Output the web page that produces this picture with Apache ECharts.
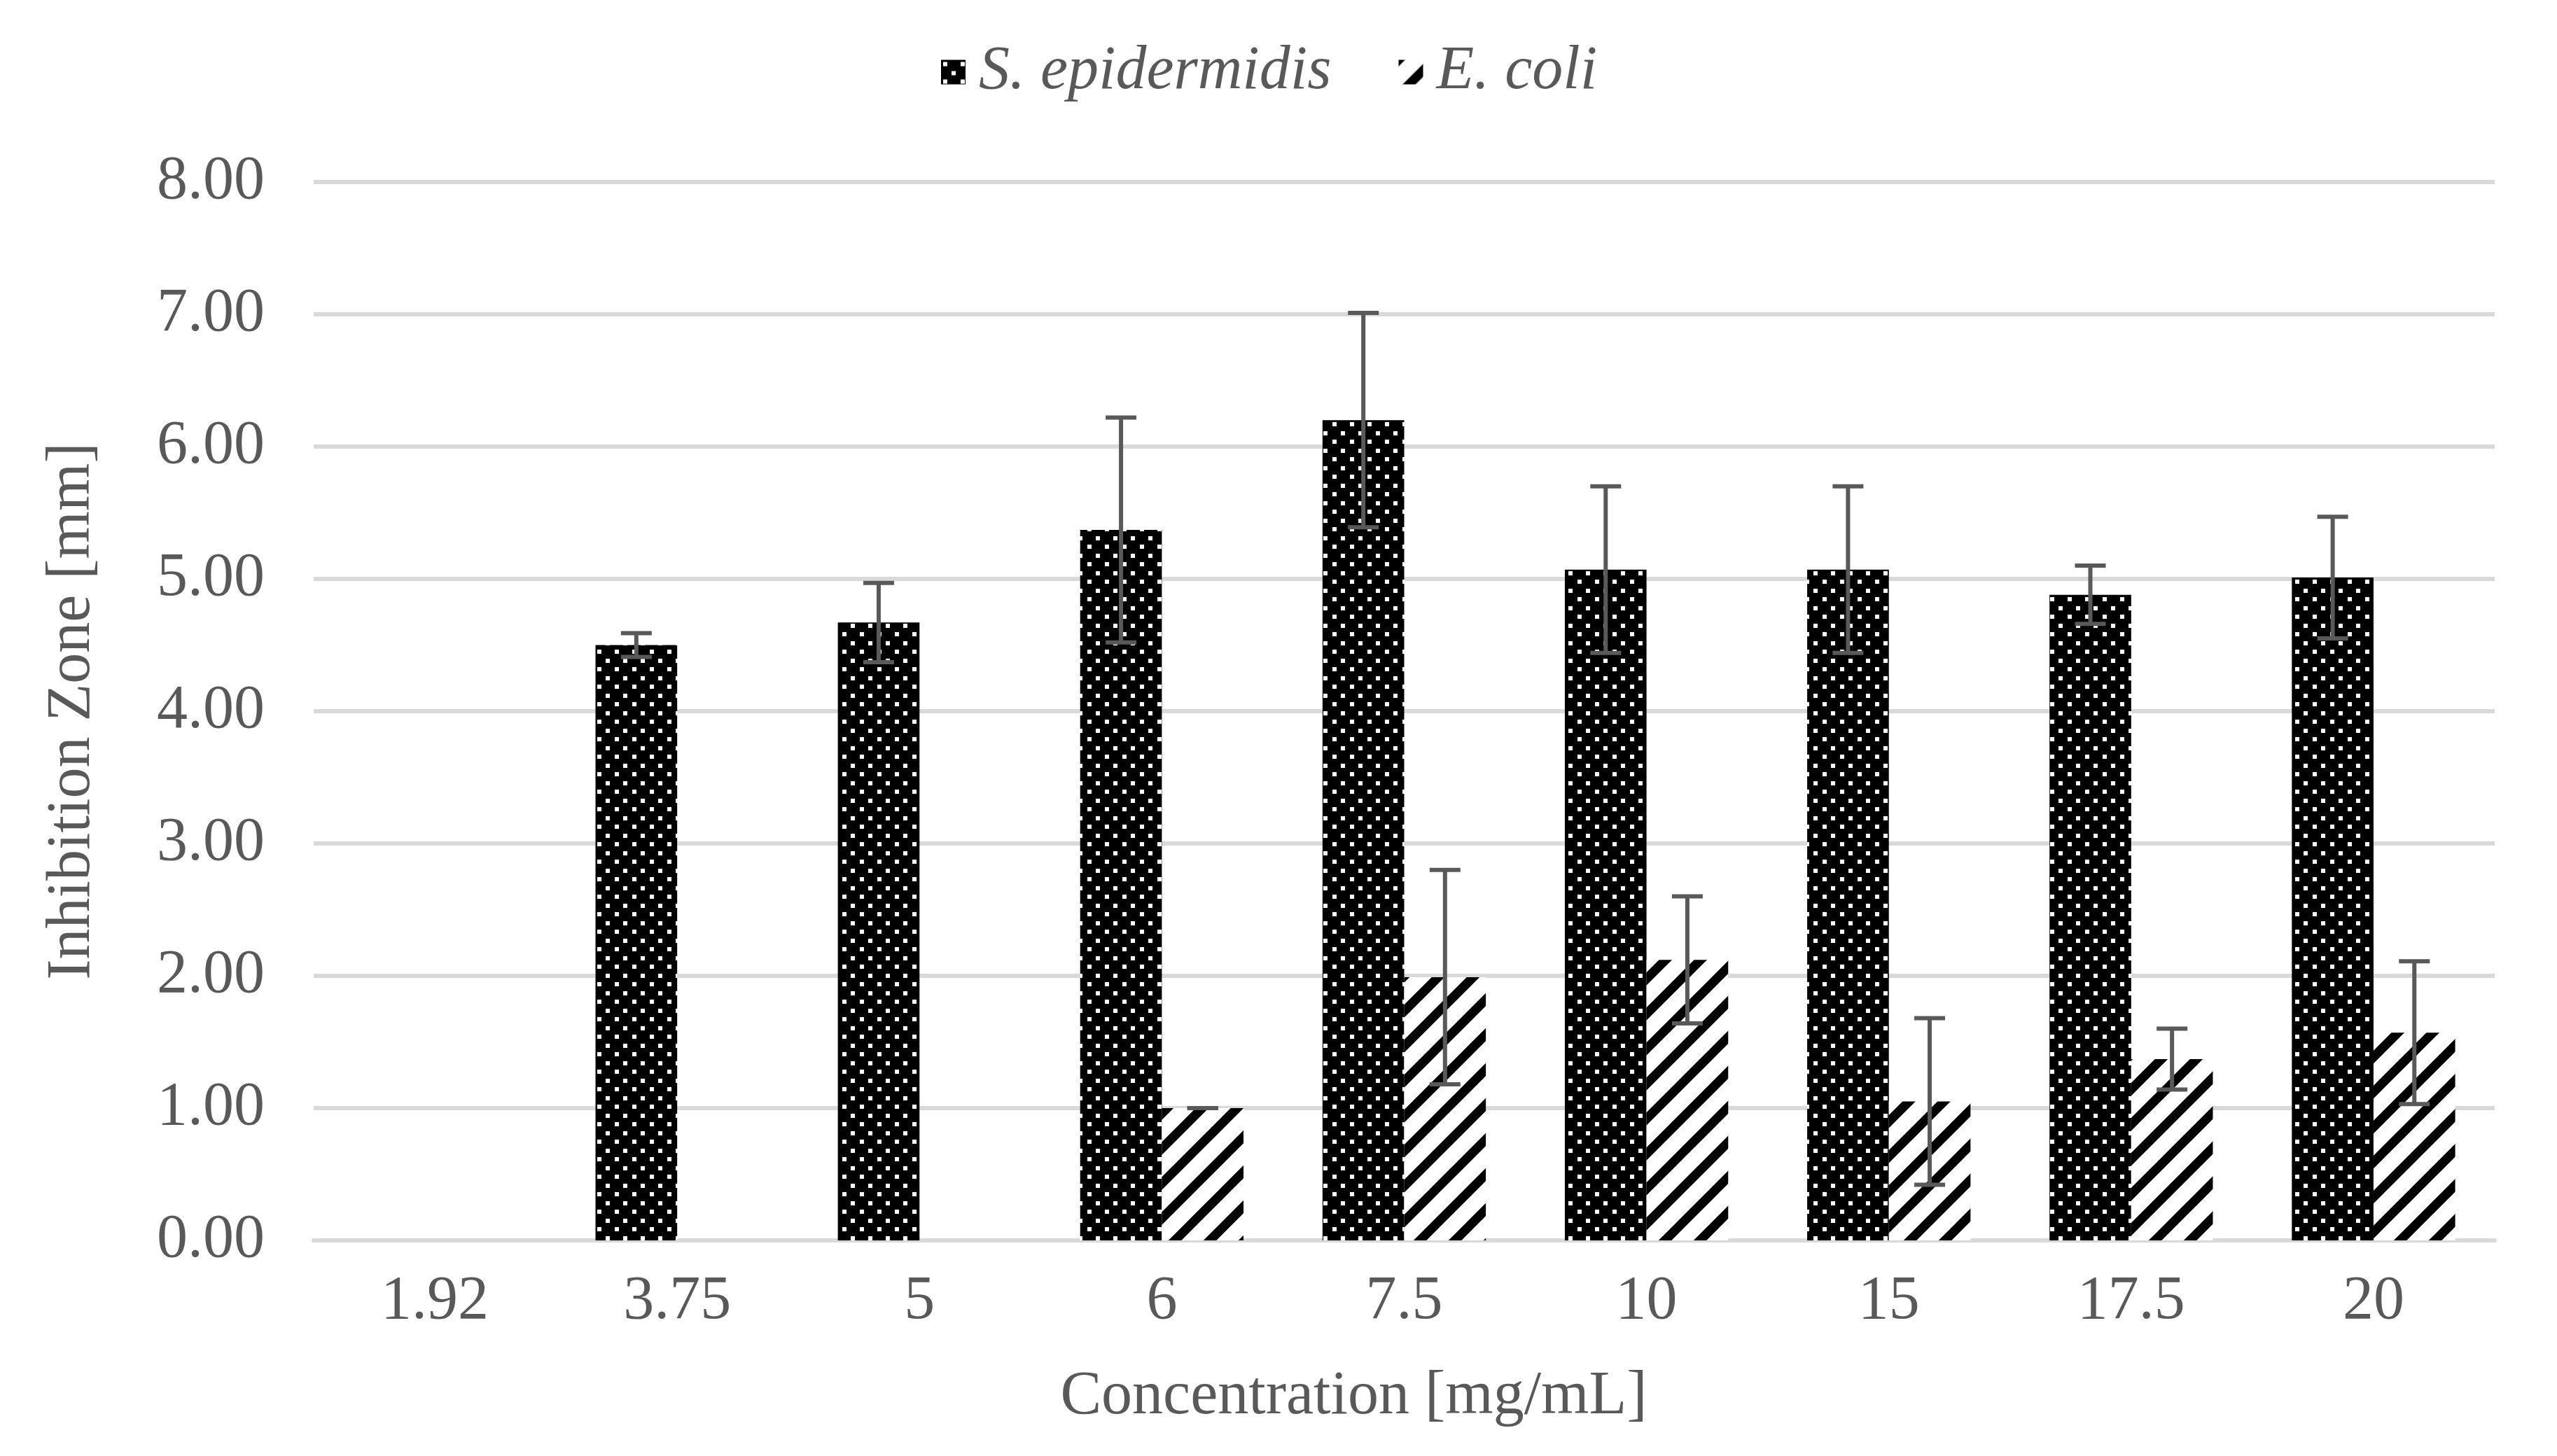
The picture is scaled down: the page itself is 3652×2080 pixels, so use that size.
<!DOCTYPE html>
<html>
<head>
<meta charset="utf-8">
<script src="https://cdn.jsdelivr.net/npm/echarts@6/dist/echarts.min.js"></script>
<style>
html,body{margin:0;padding:0;background:#fff;}
#chart{width:3652px;height:2080px;}
</style>
</head>
<body>
<div id="chart"></div>
<script>
const categories = ["1.92", "3.75", "5", "6", "7.5", "10", "15", "17.5", "20"];
const seriesNames = ["S. epidermidis", "E. coli"];
const sEpiValues = [0, 4.50, 4.67, 5.37, 6.20, 5.07, 5.07, 4.88, 5.01];
const sEpiErrors = [0, 0.09, 0.30, 0.85, 0.81, 0.63, 0.63, 0.22, 0.46];
const eColiValues = [0, 0, 0, 1.00, 1.99, 2.12, 1.05, 1.37, 1.57];
const eColiErrors = [0, 0, 0, 0, 0.81, 0.48, 0.63, 0.23, 0.54];
const yTicks = [0, 1, 2, 3, 4, 5, 6, 7, 8];
const xAxisTitle = "Concentration [mg/mL]";
const yAxisTitle = "Inhibition Zone [mm]";

const FONT = '"Liberation Serif", "Times New Roman", serif';
const TEXT = '#595959';
const BAR_FRAC = 0.337;

function dotPattern() {
  const c = document.createElement('canvas');
  c.width = 25; c.height = 25;
  const g = c.getContext('2d');
  g.fillStyle = '#000'; g.fillRect(0, 0, 25, 25);
  g.fillStyle = '#fff';
  g.fillRect(3, 3, 6, 6);
  g.fillRect(15, 16, 6, 6);
  return c;
}
function hatchPattern() {
  const c = document.createElement('canvas');
  c.width = 50; c.height = 50;
  const g = c.getContext('2d');
  g.fillStyle = '#fff'; g.fillRect(0, 0, 50, 50);
  g.strokeStyle = '#000'; g.lineWidth = 13;
  [[-10, 10, 10, -10], [-10, 60, 60, -10], [40, 60, 60, 40]].forEach(function (s) {
    g.beginPath(); g.moveTo(s[0], s[1]); g.lineTo(s[2], s[3]); g.stroke();
  });
  return c;
}
const dotFill = { image: dotPattern(), repeat: 'repeat' };
const hatchFill = { image: hatchPattern(), repeat: 'repeat' };

function errorSeries(values, errors, side) {
  const data = values.map(function (v, i) { return [i, v, errors[i]]; }).filter(function (d) { return d[1] > 0; });
  return {
    type: 'custom',
    z: 10,
    silent: true,
    data: data,
    encode: { x: 0, y: 1 },
    renderItem: function (params, api) {
      const idx = api.value(0), v = api.value(1), e = api.value(2);
      const band = api.size([1, 0])[0];
      const off = side * band * BAR_FRAC / 2;
      const top = api.coord([idx, v + e]);
      const bot = api.coord([idx, v - e]);
      const x = top[0] + off;
      const hw = 22;
      const style = { stroke: '#595959', lineWidth: 6, fill: null };
      return {
        type: 'group',
        children: [
          { type: 'line', shape: { x1: x, y1: top[1], x2: x, y2: bot[1] }, style: style },
          { type: 'line', shape: { x1: x - hw, y1: top[1], x2: x + hw, y2: top[1] }, style: style },
          { type: 'line', shape: { x1: x - hw, y1: bot[1], x2: x + hw, y2: bot[1] }, style: style }
        ]
      };
    }
  };
}

const chart = echarts.init(document.getElementById('chart'), null, { renderer: 'canvas' });
chart.setOption({
  backgroundColor: '#fff',
  animation: false,
  textStyle: { fontFamily: FONT, color: TEXT },
  legend: {
    left: 1339,
    top: 54,
    icon: 'rect',
    itemWidth: 35,
    itemHeight: 35,
    itemGap: 96,
    data: seriesNames,
    textStyle: { fontFamily: FONT, fontSize: 88, fontStyle: 'italic', color: TEXT, padding: [0, 0, 0, 14] }
  },
  grid: { left: 448, right: 89, top: 260, bottom: 308, containLabel: false },
  xAxis: {
    type: 'category',
    data: categories,
    name: xAxisTitle,
    nameLocation: 'middle',
    nameGap: 180,
    nameTextStyle: { fontFamily: FONT, fontSize: 88, color: TEXT, padding: [0, 144, 0, 0] },
    axisLine: { lineStyle: { color: '#d9d9d9', width: 6 } },
    axisTick: { show: false },
    axisLabel: { fontFamily: FONT, fontSize: 88, color: TEXT, margin: 44 }
  },
  yAxis: {
    type: 'value',
    min: 0, max: 8, interval: 1,
    name: yAxisTitle,
    nameLocation: 'middle',
    nameRotate: 90,
    nameGap: 300,
    nameTextStyle: { fontFamily: FONT, fontSize: 88, color: TEXT },
    axisLine: { show: false },
    axisTick: { show: false },
    splitLine: { lineStyle: { color: '#d9d9d9', width: 6 } },
    axisLabel: {
      fontFamily: FONT, fontSize: 88, color: TEXT, margin: 70,
      formatter: function (v) { return yTicks.indexOf(v) >= 0 ? v.toFixed(2) : ''; }
    }
  },
  series: [
    { name: seriesNames[0], type: 'bar', data: sEpiValues, barWidth: (BAR_FRAC * 100) + '%', barGap: '0%', itemStyle: { color: dotFill } },
    { name: seriesNames[1], type: 'bar', data: eColiValues, barWidth: (BAR_FRAC * 100) + '%', barGap: '0%', itemStyle: { color: hatchFill } },
    errorSeries(sEpiValues, sEpiErrors, -1),
    errorSeries(eColiValues, eColiErrors, 1)
  ]
});
</script>
</body>
</html>
